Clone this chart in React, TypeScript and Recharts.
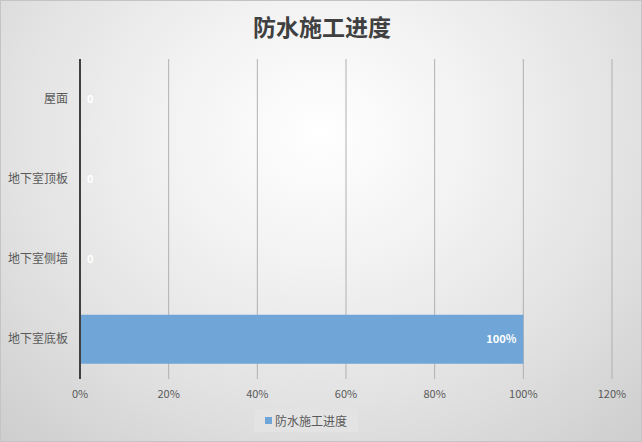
import React from 'react';
import { BarChart, Bar, XAxis, YAxis, CartesianGrid, Legend, LabelList } from 'recharts';

const categories = ['屋面', '地下室顶板', '地下室侧墙', '地下室底板'];
const progress = [0, 0, 0, 1];
const xTicks = [0, 0.2, 0.4, 0.6, 0.8, 1.0, 1.2];
const seriesName = '防水施工进度';
const title = '防水施工进度';

const data = categories.map((name, i) => ({ name, value: progress[i] }));

const FONT = '"Noto Sans CJK SC", "Noto Sans", sans-serif';
const BAR_COLOR = '#6fa5d7';

const pct = (v: number) => `${Math.round(v * 100)}%`;

const renderLabel = (props: any) => {
  const { x, y, width, height, value } = props;
  const cy = Number(y) + Number(height) / 2;
  if (!value) {
    return (
      <text x={Number(x) + 7} y={cy} dy="0.35em" fill="#ffffff" fontSize={11} fontWeight="bold" fontFamily={FONT} textAnchor="start">
        0
      </text>
    );
  }
  return (
    <text x={Number(x) + Number(width) - 7} y={cy} dy="0.35em" fill="#ffffff" fontSize={11} fontWeight="bold" fontFamily={FONT} textAnchor="end">
      {pct(value)}
    </text>
  );
};

const renderLegend = () => (
  <div style={{ display: 'flex', justifyContent: 'center' }}>
    <div
      style={{
        height: 23,
        width: 104,
        boxSizing: 'border-box',
        background: '#e3e3e3',
        display: 'flex',
        alignItems: 'center',
        justifyContent: 'center',
        fontFamily: FONT,
        fontSize: 12,
        color: '#595959',
      }}
    >
      <span style={{ width: 7, height: 7, background: BAR_COLOR, display: 'inline-block', marginRight: 3 }} />
      <span>{seriesName}</span>
    </div>
  </div>
);

export default function App() {
  return (
    <div
      style={{
        position: 'absolute',
        left: 0,
        top: 0,
        width: 642,
        height: 442,
        boxSizing: 'border-box',
        border: '1px solid #c4c4c4',
        background: 'radial-gradient(ellipse 75% 95% at 50% 30%, #ffffff 0%, #f3f3f3 30%, #e2e2e2 65%, #cdcdcd 100%)',
        overflow: 'hidden',
      }}
    >
      <div
        style={{
          position: 'absolute',
          top: 9,
          left: 0,
          width: 642,
          textAlign: 'center',
          fontFamily: FONT,
          fontSize: 23,
          fontWeight: 'bold',
          color: '#404040',
          lineHeight: '32px',
          letterSpacing: 0,
        }}
      >
        {title}
      </div>
      <div style={{ position: 'absolute', left: -1, top: -1 }}>
        <BarChart
          width={642}
          height={442}
          data={data}
          layout="vertical"
          margin={{ top: 59, right: 30, bottom: 10, left: 0 }}
          barCategoryGap="19.6%"
        >
          <CartesianGrid horizontal={false} vertical={true} stroke="#b0b0b0" strokeWidth={1} />
          <XAxis
            type="number"
            domain={[0, 1.2]}
            ticks={xTicks}
            tickFormatter={pct}
            axisLine={false}
            tickLine={false}
            tickSize={0}
            tickMargin={11}
            height={30}
            tick={{ fill: '#595959', fontSize: 11, fontFamily: FONT }}
            interval={0}
          />
          <Legend verticalAlign="bottom" align="center" content={renderLegend} height={23} />
          <Bar
            dataKey="value"
            name={seriesName}
            fill={BAR_COLOR}
            isAnimationActive={false}
            minPointSize={(v: number) => (v === 0 ? 1 : 0)}
          >
            <LabelList dataKey="value" content={renderLabel} />
          </Bar>
          <YAxis
            type="category"
            dataKey="name"
            width={80}
            axisLine={{ stroke: '#404040', strokeWidth: 2 }}
            tickLine={false}
            tickSize={0}
            tickMargin={12}
            tick={{ fill: '#595959', fontSize: 12, fontFamily: FONT }}
          />
        </BarChart>
      </div>
    </div>
  );
}
